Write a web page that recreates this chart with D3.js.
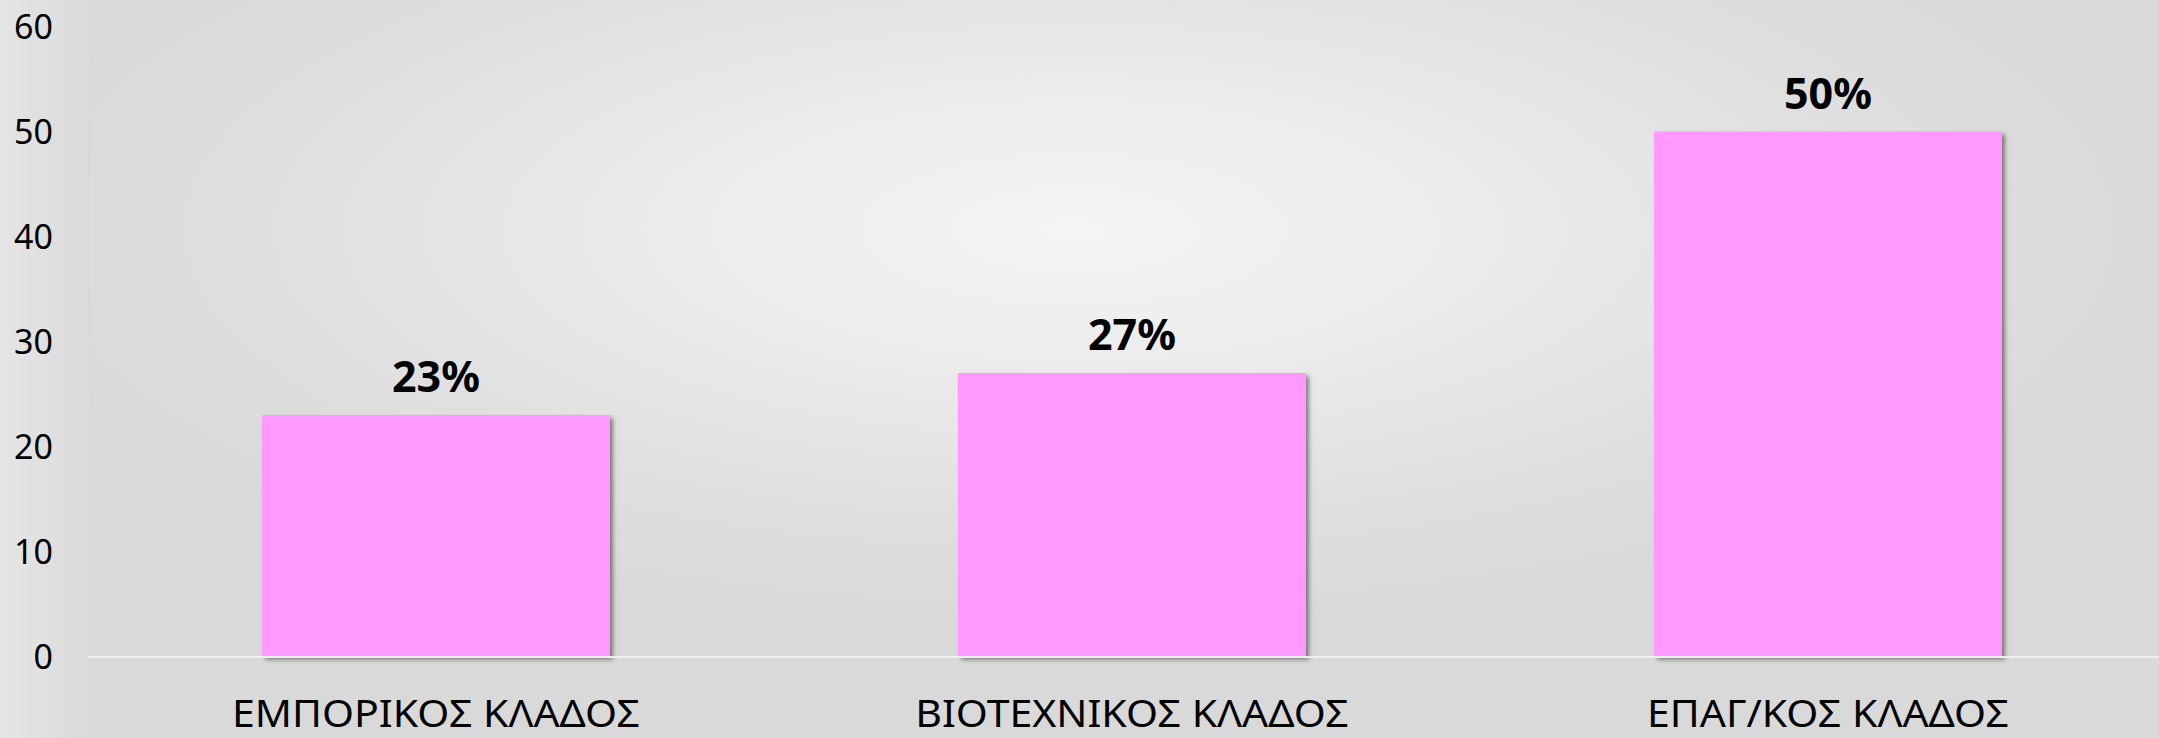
<!DOCTYPE html>
<html>
<head>
<meta charset="utf-8">
<script src="https://cdn.jsdelivr.net/npm/d3@7"></script>
<style>
  html, body { margin: 0; padding: 0; background: #e2e2e2; }
  svg { display: block; }
</style>
</head>
<body>
<script>
const categories = ["ΕΜΠΟΡΙΚΟΣ ΚΛΑΔΟΣ", "ΒΙΟΤΕΧΝΙΚΟΣ ΚΛΑΔΟΣ", "ΕΠΑΓ/ΚΟΣ ΚΛΑΔΟΣ"];
const values = [23, 27, 50];
const valueLabels = ["23%", "27%", "50%"];
const yTicks = [0, 10, 20, 30, 40, 50, 60];

const W = 2159, H = 738;
const svg = d3.select("body").append("svg").attr("width", W).attr("height", H);
const defs = svg.append("defs");

// background gradients
const lg = defs.append("linearGradient").attr("id", "leftbg").attr("x1", 0).attr("x2", 1).attr("y1", 0).attr("y2", 0);
lg.append("stop").attr("offset", 0).attr("stop-color", "#e5e5e5");
lg.append("stop").attr("offset", 1).attr("stop-color", "#dadada");

const cx = 1075, cy = 230;
const rg = defs.append("radialGradient").attr("id", "bg")
  .attr("gradientUnits", "userSpaceOnUse")
  .attr("cx", cx).attr("cy", cy).attr("r", 1100)
  .attr("gradientTransform", `translate(${cx},${cy}) scale(1,0.36) translate(${-cx},${-cy})`);
rg.append("stop").attr("offset", 0).attr("stop-color", "#f4f4f4");
rg.append("stop").attr("offset", 0.35).attr("stop-color", "#ececec");
rg.append("stop").attr("offset", 0.7).attr("stop-color", "#e0e0e0");
rg.append("stop").attr("offset", 1).attr("stop-color", "#d9d9d9");

svg.append("rect").attr("width", W).attr("height", H).attr("fill", "#dadada");
svg.append("rect").attr("x", 70).attr("width", W - 70).attr("height", H).attr("fill", "url(#bg)");
svg.append("rect").attr("x", 0).attr("width", 90).attr("height", H).attr("fill", "url(#leftbg)");

const shadow = defs.append("filter").attr("id", "shadow")
  .attr("x", "-10%").attr("y", "-10%").attr("width", "120%").attr("height", "120%");
shadow.append("feDropShadow").attr("dx", 3).attr("dy", 3).attr("stdDeviation", 2)
  .attr("flood-color", "#000").attr("flood-opacity", 0.45);

const x = d3.scaleBand().domain(categories).range([88, 2176]).paddingInner(0.5).paddingOuter(0.25);
const y = d3.scaleLinear().domain([0, 60]).range([656.5, 26.5]);

// y axis labels
const yAxis = d3.axisLeft(y).tickValues(yTicks).tickSize(0).tickPadding(0);
const ya = svg.append("g").attr("transform", "translate(53,0)").call(yAxis);
ya.select(".domain").remove();
ya.selectAll("text")
  .attr("font-family", "'Noto Sans', sans-serif")
  .attr("font-size", 34)
  .attr("fill", "#000")
  .attr("dy", "0.36em");

// bars
svg.append("g").selectAll("rect").data(values).join("rect")
  .attr("x", (d, i) => x(categories[i]))
  .attr("y", d => y(d))
  .attr("width", x.bandwidth())
  .attr("height", d => y(0) - y(d))
  .attr("fill", "#ff99ff")
  .attr("filter", "url(#shadow)");

// baseline
svg.append("line")
  .attr("x1", 87).attr("x2", W)
  .attr("y1", y(0) + 0.5).attr("y2", y(0) + 0.5)
  .attr("stroke", "#eeeeee").attr("stroke-width", 2);

// value labels
svg.append("g").selectAll("text").data(values).join("text")
  .attr("x", (d, i) => x(categories[i]) + x.bandwidth() / 2)
  .attr("y", d => y(d) - 23)
  .attr("text-anchor", "middle")
  .attr("font-family", "'Noto Sans', sans-serif")
  .attr("font-weight", "bold")
  .attr("font-size", 43)
  .attr("fill", "#000")
  .text((d, i) => valueLabels[i]);

// category labels (x axis)
const xAxis = d3.axisBottom(x).tickSize(0).tickPadding(0);
const xa = svg.append("g").attr("transform", "translate(0,727)").call(xAxis);
xa.select(".domain").remove();
xa.selectAll("text")
  .attr("font-family", "'Noto Sans', sans-serif")
  .attr("font-size", 38)
  .attr("fill", "#000")
  .attr("dy", 0)
  .attr("transform", "scale(1.08,1)");
</script>
</body>
</html>
